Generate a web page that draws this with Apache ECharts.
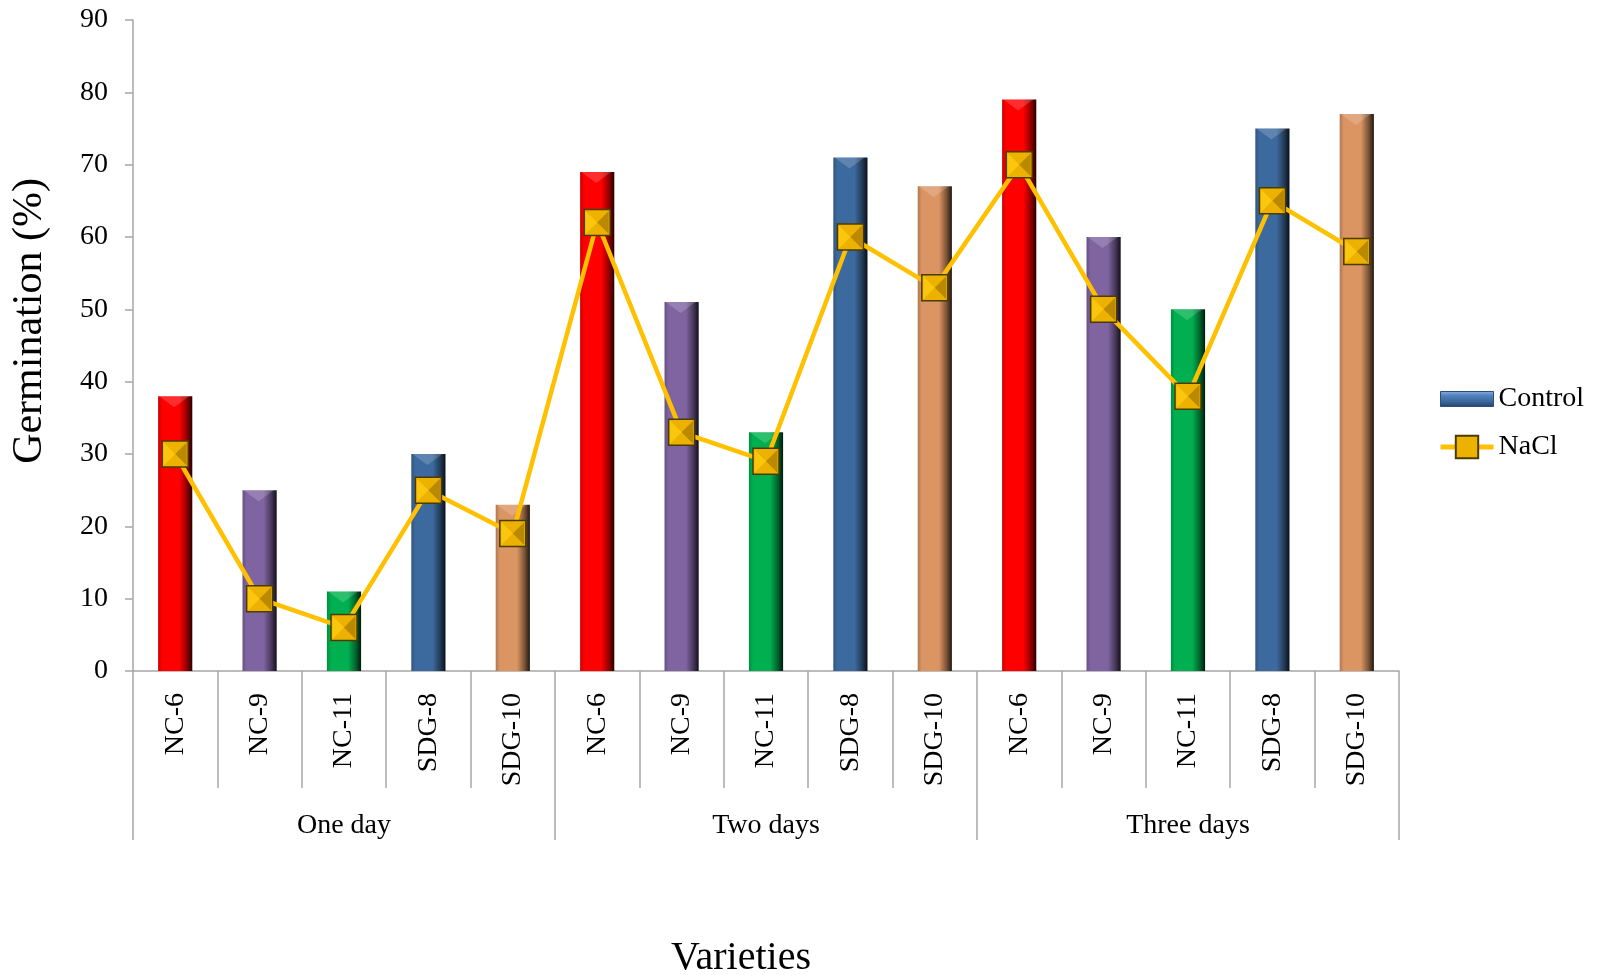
<!DOCTYPE html>
<html>
<head>
<meta charset="utf-8">
<script src="https://cdn.jsdelivr.net/npm/echarts@6/dist/echarts.min.js"></script>
<style>
html,body{margin:0;padding:0;background:#fff;}
#chart{width:1597px;height:975px;}
</style>
</head>
<body>
<div id="chart"></div>
<script>
// ---- data ----
const varieties = ['NC-6', 'NC-9', 'NC-11', 'SDG-8', 'SDG-10'];
const periods = ['One day', 'Two days', 'Three days'];
const controlValues = [38, 25, 11, 30, 23, 69, 51, 33, 71, 67, 79, 60, 50, 75, 77];
const naclValues = [30, 10, 6, 25, 19, 62, 33, 29, 60, 53, 70, 50, 38, 65, 58];
const varietyColors = ['#FF0000', '#8064A2', '#00B050', '#3D6A9E', '#DB9563'];
const seriesNames = ['Control', 'NaCl'];
const yTitle = 'Germination (%)';
const xTitle = 'Varieties';

// ---- helpers ----
const categories = [];
periods.forEach(p => varieties.forEach(v => categories.push(p + '|' + v)));

function shade(hex, f) {
  const n = parseInt(hex.slice(1), 16);
  const r = Math.round(((n >> 16) & 255) * f);
  const g = Math.round(((n >> 8) & 255) * f);
  const b = Math.round((n & 255) * f);
  return 'rgb(' + r + ',' + g + ',' + b + ')';
}
function barGradient(hex) {
  return {
    type: 'linear', x: 0, y: 0, x2: 1, y2: 0,
    colorStops: [
      { offset: 0, color: shade(hex, 0.8) },
      { offset: 0.12, color: hex },
      { offset: 0.62, color: hex },
      { offset: 0.85, color: shade(hex, 0.55) },
      { offset: 1, color: shade(hex, 0.15) }
    ]
  };
}

const FONT = 'Liberation Serif';
const AXIS_GRAY = '#A6A6A6';
const LINE_YELLOW = '#FFC000';

const chart = echarts.init(document.getElementById('chart'));
chart.setOption({
  animation: false,
  backgroundColor: '#ffffff',
  grid: { left: 133, right: 198, top: 20, bottom: 304 },
  legend: {
    orient: 'vertical',
    left: 1433,
    top: 380,
    itemWidth: 53,
    itemHeight: 28,
    itemGap: 20,
    selectedMode: false,
    textStyle: { fontFamily: FONT, fontSize: 28, color: '#000' },
    data: [
      {
        name: seriesNames[0],
        icon: 'path://M0,0L53,0L53,15L0,15Z',
        itemStyle: {
          color: {
            type: 'linear', x: 0, y: 0, x2: 0, y2: 1,
            colorStops: [
              { offset: 0, color: '#8DB0DC' },
              { offset: 0.3, color: '#4F81BD' },
              { offset: 0.7, color: '#3A6496' },
              { offset: 1, color: '#23406A' }
            ]
          },
          borderColor: '#2B4E7A',
          borderWidth: 1
        }
      },
      { name: seriesNames[1], lineStyle: { color: LINE_YELLOW, width: 5 } }
    ]
  },
  graphic: [
    {
      type: 'text', x: 30, y: 321, rotation: Math.PI / 2,
      style: { text: yTitle, fontFamily: FONT, fontSize: 42, fill: '#000', align: 'center', verticalAlign: 'middle' }
    },
    {
      type: 'text', x: 741, y: 958,
      style: { text: xTitle, fontFamily: FONT, fontSize: 40, fill: '#000', align: 'center', verticalAlign: 'middle' }
    }
  ],
  xAxis: [
    {
      type: 'category',
      data: categories,
      position: 'bottom',
      axisLine: { show: true, lineStyle: { color: AXIS_GRAY, width: 1.5 } },
      axisTick: { show: true, alignWithLabel: false, interval: 0, length: 117, lineStyle: { color: AXIS_GRAY, width: 1.5 } },
      axisLabel: {
        interval: 0, rotate: 90, margin: 22,
        fontFamily: FONT, fontSize: 28, color: '#000',
        formatter: v => v.split('|')[1]
      },
      splitLine: { show: false }
    },
    {
      type: 'category',
      data: periods,
      position: 'bottom',
      axisLine: { show: false },
      axisTick: { show: true, alignWithLabel: false, interval: 0, length: 169, lineStyle: { color: AXIS_GRAY, width: 1.5 } },
      axisLabel: { interval: 0, margin: 141, fontFamily: FONT, fontSize: 28, color: '#000' },
      splitLine: { show: false }
    }
  ],
  yAxis: {
    type: 'value',
    min: 0, max: 90, interval: 10,
    axisLine: { show: true, lineStyle: { color: AXIS_GRAY, width: 1.5 } },
    axisTick: { show: true, length: 8, lineStyle: { color: AXIS_GRAY, width: 1.5 } },
    axisLabel: { margin: 25, fontFamily: FONT, fontSize: 28, color: '#000' },
    splitLine: { show: false }
  },
  series: [
    {
      name: seriesNames[0],
      type: 'bar',
      xAxisIndex: 0,
      barWidth: '40.5%',
      itemStyle: { color: '#3D6A9E' },
      data: controlValues.map((v, i) => ({
        value: v,
        itemStyle: { color: barGradient(varietyColors[i % varieties.length]) }
      }))
    },
    {
      name: 'Control-top-bevel',
      type: 'scatter',
      xAxisIndex: 0,
      silent: true,
      z: 2,
      symbol: 'path://M0,0L1,0L0.5,1Z',
      symbolSize: [30, 11],
      symbolOffset: [-1, '50%'],
      itemStyle: { color: 'rgba(255,255,255,0.22)' },
      data: controlValues
    },
    {
      name: seriesNames[1],
      type: 'line',
      xAxisIndex: 0,
      symbol: 'rect',
      symbolSize: 26,
      showAllSymbol: true,
      z: 3,
      lineStyle: { color: LINE_YELLOW, width: 4.5 },
      itemStyle: { color: '#EDB200', borderColor: '#4A3C00', borderWidth: 1.5 },
      data: naclValues
    },
    {
      name: 'NaCl-shade-dark',
      type: 'scatter',
      xAxisIndex: 0,
      silent: true,
      z: 4,
      symbol: 'path://M1,0L0.5,0.5L1,1ZM0,0L0.01,0L0,0.01Z',
      symbolSize: 23,
      itemStyle: { color: 'rgba(120,85,0,0.55)' },
      data: naclValues
    },
    {
      name: 'NaCl-shade-light',
      type: 'scatter',
      xAxisIndex: 0,
      silent: true,
      z: 4,
      symbol: 'path://M0,0L0.5,0.5L0,1ZM1,1L0.99,1L1,0.99Z',
      symbolSize: 23,
      itemStyle: { color: 'rgba(255,205,20,0.9)' },
      data: naclValues
    }
  ]
});
</script>
</body>
</html>
